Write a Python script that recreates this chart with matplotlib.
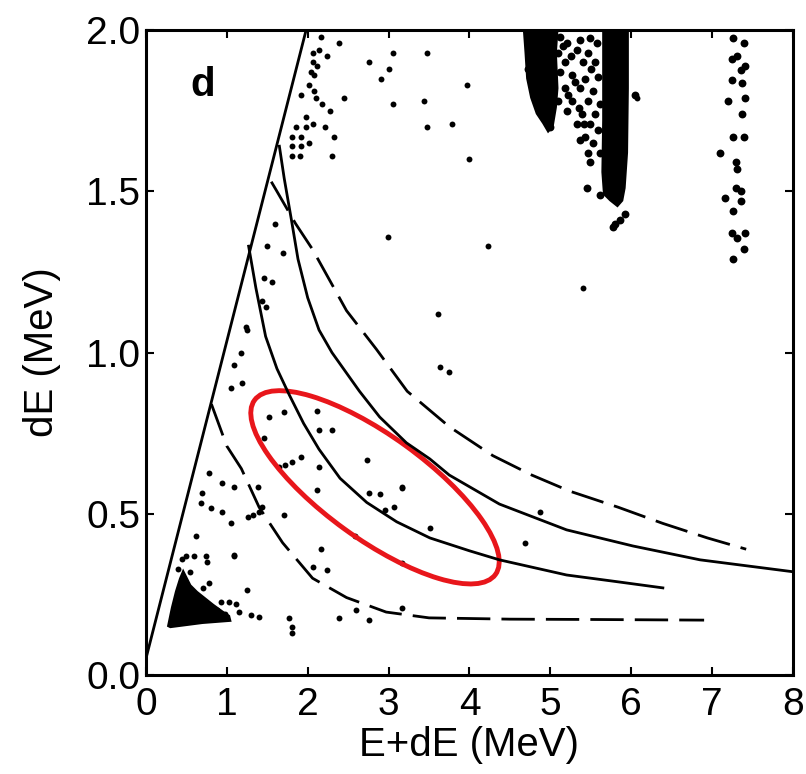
import matplotlib.pyplot as plt
from matplotlib.patches import Ellipse

plt.rcParams['font.family'] = ['Liberation Sans', 'DejaVu Sans']

# linea recta (limite cinematico)
linea_x = [0.0, 1.98]
linea_y = [0.05, 2.0]

# curvas solidas
curva_a_x = [1.65, 1.71, 1.80, 1.88, 2.0, 2.14, 2.30, 2.64, 2.89, 3.22, 3.51, 3.75, 4.37, 5.20, 6.02, 6.85, 8.0]
curva_a_y = [1.64, 1.54, 1.41, 1.29, 1.17, 1.07, 1.00, 0.88, 0.80, 0.72, 0.67, 0.62, 0.53, 0.45, 0.40, 0.357, 0.32]
curva_b_x = [1.27, 1.36, 1.48, 1.62, 1.77, 1.95, 2.14, 2.40, 2.73, 3.10, 3.51, 4.0, 4.37, 5.2, 5.8, 6.39]
curva_b_y = [1.33, 1.20, 1.05, 0.95, 0.87, 0.78, 0.70, 0.61, 0.535, 0.475, 0.425, 0.385, 0.357, 0.31, 0.29, 0.27]

# curvas discontinuas
curva_c_x = [1.55, 1.62, 1.85, 2.06, 2.48, 2.85, 3.23, 3.75, 4.29, 4.77, 5.24, 5.84, 6.39, 6.94, 7.42]
curva_c_y = [1.53, 1.50, 1.40, 1.32, 1.13, 1.01, 0.88, 0.77, 0.68, 0.62, 0.57, 0.52, 0.47, 0.425, 0.39]
curva_d_x = [0.81, 1.0, 1.18, 1.40, 1.69, 2.06, 2.48, 2.97, 3.5, 4.5, 5.5, 6.9]
curva_d_y = [0.84, 0.71, 0.64, 0.52, 0.41, 0.30, 0.24, 0.195, 0.177, 0.173, 0.172, 0.17]

# zonas densas (manchas negras)
mancha_x = [0.26, 0.31, 0.36, 0.41, 0.46, 0.50, 0.56, 0.64, 0.74, 0.84, 0.95, 1.04, 1.06, 0.70, 0.30]
mancha_y = [0.15, 0.21, 0.26, 0.30, 0.33, 0.31, 0.28, 0.26, 0.24, 0.22, 0.20, 0.185, 0.165, 0.158, 0.145]
banda1_x = [4.66, 5.10, 5.08, 5.10, 5.08, 5.04, 4.97, 4.90, 4.82, 4.75, 4.70, 4.68]
banda1_y = [2.0, 2.0, 1.93, 1.82, 1.76, 1.70, 1.68, 1.71, 1.74, 1.79, 1.85, 1.93]
banda3_x = [5.64, 5.97, 5.97, 5.96, 5.93, 5.90, 5.83, 5.73, 5.65, 5.63, 5.64, 5.64]
banda3_y = [2.0, 2.0, 1.82, 1.62, 1.51, 1.47, 1.45, 1.47, 1.49, 1.56, 1.72, 1.93]

# eventos sueltos
puntos_x = [2.17, 2.39, 2.06, 2.14, 2.24, 2.06, 2.12, 2.04, 2.08, 2.02, 2.08, 1.92, 2.10, 2.18, 2.27, 2.45,
            1.98, 1.86, 1.98, 2.06, 2.21, 1.81, 1.92, 2.02, 1.81, 1.92, 2.33, 1.81, 1.90, 2.30,
            2.76, 3.05, 3.01, 2.91, 3.05, 3.47, 3.44, 3.47, 2.99, 1.59, 1.50, 1.69, 3.97, 3.78, 4.0,
            4.23, 5.40, 6.07, 3.61, 3.63, 3.75, 3.17,
            1.46, 1.56, 1.44, 1.49, 1.24, 1.25, 1.18, 1.09, 1.19, 1.05, 1.52, 1.71, 2.11, 2.14, 2.30,
            1.46, 1.92, 1.65, 1.72, 1.80, 2.14, 2.73, 2.11, 2.76, 2.89, 3.17, 0.78, 0.94, 1.09, 1.38,
            0.69, 0.68, 0.81, 0.94, 1.05, 1.44, 1.26, 1.33, 1.40, 1.71, 2.95, 3.07, 2.58, 1.09,
            2.17, 2.06, 2.24, 3.17, 1.25, 1.77, 2.39, 2.76, 3.17, 3.51, 4.68, 4.87, 2.60,
            0.62, 0.50, 0.59, 0.74, 0.76, 1.09, 0.78, 0.93, 1.03, 1.11, 1.15, 1.30, 1.40, 1.81, 1.81,
            0.40, 0.45, 0.55, 0.70, 0.88, 0.98]
puntos_y = [1.98, 1.96, 1.93, 1.94, 1.92, 1.90, 1.89, 1.87, 1.86, 1.83, 1.81, 1.80, 1.79, 1.77, 1.75, 1.79,
            1.73, 1.70, 1.70, 1.71, 1.70, 1.67, 1.67, 1.65, 1.64, 1.64, 1.67, 1.61, 1.61, 1.61,
            1.90, 1.93, 1.88, 1.85, 1.77, 1.93, 1.78, 1.70, 1.36, 1.40, 1.33, 1.31, 1.83, 1.71, 1.60,
            1.33, 1.20, 1.79, 1.12, 0.955, 0.94, 0.58,
            1.23, 1.22, 1.16, 1.14, 1.08, 1.07, 1.0, 0.96, 0.905, 0.89, 0.80, 0.815, 0.82, 0.76, 0.76,
            0.735, 0.675, 0.645, 0.65, 0.66, 0.645, 0.667, 0.574, 0.564, 0.561, 0.583, 0.626, 0.595, 0.583, 0.583,
            0.564, 0.533, 0.518, 0.505, 0.47, 0.52, 0.49, 0.497, 0.505, 0.496, 0.512, 0.52, 0.43, 0.372,
            0.39, 0.335, 0.326, 0.347, 0.264, 0.177, 0.177, 0.17, 0.208, 0.456, 0.41, 0.505, 0.20,
            0.43, 0.37, 0.37, 0.37, 0.35, 0.37, 0.285, 0.227, 0.227, 0.22, 0.195, 0.186, 0.18, 0.15, 0.13,
            0.33, 0.36, 0.32, 0.27, 0.20, 0.19]

# eventos en las bandas de arriba (x ~ 5.1-5.6 y x ~ 7.3)
bandas_x = [5.12, 5.20, 5.37, 5.49, 5.58, 5.09, 5.33, 5.46, 5.18, 5.40, 5.55, 5.12, 5.27, 5.43, 5.59,
            5.18, 5.37, 5.53, 5.09, 5.27, 5.46, 5.61, 5.20, 5.39, 5.55, 5.33, 5.49, 5.59, 5.43, 5.37,
            5.53, 5.46, 5.61, 5.49, 5.45, 6.05, 4.72, 4.99, 5.92, 5.86, 5.80, 5.61, 5.77,
            5.25, 5.30, 5.15, 5.50, 5.42, 5.22, 5.35,
            7.26, 7.39, 7.31, 7.41, 7.35, 7.25, 7.25, 7.37, 7.41, 7.20, 7.37, 7.26, 7.39, 7.10, 7.29,
            7.31, 7.29, 7.35, 7.16, 7.35, 7.26, 7.25, 7.41, 7.31, 7.39, 7.26]
bandas_y = [1.98, 1.96, 1.97, 1.975, 1.96, 1.93, 1.94, 1.93, 1.90, 1.90, 1.90, 1.87, 1.86, 1.85, 1.855,
            1.82, 1.82, 1.81, 1.78, 1.78, 1.78, 1.77, 1.75, 1.74, 1.74, 1.71, 1.71, 1.69, 1.67, 1.66,
            1.65, 1.62, 1.62, 1.59, 1.51, 1.80, 1.88, 1.70, 1.43, 1.41, 1.40, 1.49, 1.39,
            1.92, 1.84, 1.95, 1.88, 1.71, 1.80, 1.76,
            1.975, 1.96, 1.92, 1.89, 1.876, 1.91, 1.845, 1.835, 1.79, 1.78, 1.74, 1.67, 1.67, 1.62, 1.59,
            1.57, 1.51, 1.50, 1.48, 1.47, 1.44, 1.37, 1.37, 1.355, 1.32, 1.29]

fig = plt.figure(figsize=(8.06, 7.74), dpi=100)
ax = fig.add_axes([0.181, 0.128, 0.803, 0.833])

ax.plot(linea_x, linea_y, c='black', lw=2.0)
ax.plot(curva_a_x, curva_a_y, c='black', lw=2.0)
ax.plot(curva_b_x, curva_b_y, c='black', lw=2.0)
ax.plot(curva_c_x, curva_c_y, c='black', lw=2.0, ls=(0, (12, 4)))
ax.plot(curva_d_x, curva_d_y, c='black', lw=2.0, ls=(0, (12, 4)))

ax.fill(mancha_x, mancha_y, color='black', lw=0)
ax.fill(banda1_x, banda1_y, color='black', lw=0)
ax.fill(banda3_x, banda3_y, color='black', lw=0)
ax.scatter(puntos_x, puntos_y, s=18, c='black', linewidths=0)
ax.scatter(bandas_x, bandas_y, s=32, c='black', linewidths=0)

# ovalo rojo marcado a mano
ax.add_patch(Ellipse((0.354, 0.291), 0.46, 0.16, angle=-36, transform=ax.transAxes,
                     fill=False, ec='#e8161b', lw=3.5))

ax.text(0.087, 0.915, 'd', transform=ax.transAxes, fontsize=29, fontweight='bold',
        ha='center', va='center')

ax.set_xlim(0, 8)
ax.set_ylim(0, 2)
ax.set_xticks(range(0, 9))
ax.set_yticks([0.0, 0.5, 1.0, 1.5, 2.0])
ax.set_yticklabels(['0.0', '0.5', '1.0', '1.5', '2.0'])
ax.tick_params(direction='in', length=6, width=1.5, top=True, right=True, labelsize=28)
ax.tick_params(axis='x', pad=9)
ax.tick_params(axis='y', pad=4)
for s in ax.spines.values():
    s.set_linewidth(2.2)

ax.set_xlabel('E+dE (MeV)', fontsize=29, labelpad=2)
ax.set_ylabel('dE (MeV)', fontsize=29, labelpad=18)

plt.savefig('out.png', dpi=100)
plt.close()
